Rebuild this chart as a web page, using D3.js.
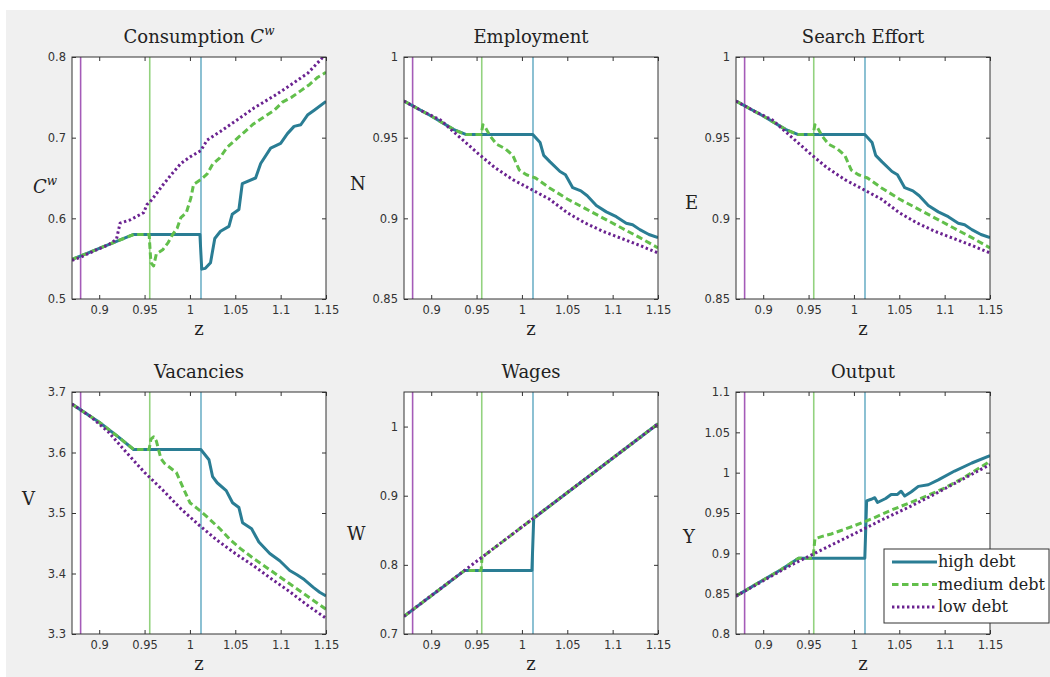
<!DOCTYPE html>
<html>
<head>
<meta charset="utf-8">
<script src="https://cdn.jsdelivr.net/npm/d3@7"></script>
<style>
  body { margin: 0; background: #fff; }
  svg { display: block; }
</style>
</head>
<body>
<svg id="chart" width="1050" height="677"></svg>
<script>
// z grid shown on every panel
var zDomain = [0.87, 1.15];
var zTicks = [0.9, 0.95, 1, 1.05, 1.1, 1.15];
// threshold z for low, medium, high debt (vertical lines)
var thresholds = [0.8795, 0.9557, 1.0122];
var seriesNames = ["high debt", "medium debt", "low debt"];

// Consumption C^w  [z, value]
var consHigh = [[0.87,0.549],[0.938,0.580],[1.011,0.580],[1.013,0.537],[1.017,0.538],[1.0227,0.545],
  [1.0274,0.575],[1.0337,0.584],[1.043,0.590],[1.0466,0.605],[1.054,0.611],[1.0577,0.643],[1.0724,0.650],
  [1.078,0.668],[1.089,0.687],[1.100,0.693],[1.1075,0.705],[1.1148,0.714],[1.1222,0.716],[1.1296,0.728],
  [1.137,0.734],[1.150,0.745]];
var consMed = [[0.87,0.549],[0.938,0.580],[0.955,0.580],[0.957,0.545],[0.960,0.541],[0.963,0.556],
  [0.970,0.561],[0.976,0.570],[0.981,0.580],[0.986,0.588],[0.990,0.601],[0.996,0.607],[1.001,0.625],
  [1.004,0.642],[1.012,0.648],[1.019,0.655],[1.025,0.667],[1.033,0.675],[1.041,0.688],[1.050,0.697],
  [1.060,0.707],[1.070,0.717],[1.082,0.726],[1.093,0.734],[1.102,0.744],[1.112,0.750],[1.122,0.758],
  [1.132,0.766],[1.141,0.775],[1.150,0.781]];
var consLow = [[0.87,0.548],[0.880,0.552],[0.895,0.560],[0.910,0.567],[0.919,0.574],[0.923,0.594],
  [0.934,0.598],[0.949,0.607],[0.9526,0.617],[0.958,0.623],[0.970,0.641],[0.980,0.655],[0.990,0.668],
  [1.000,0.676],[1.012,0.684],[1.019,0.697],[1.034,0.708],[1.052,0.722],[1.071,0.737],[1.093,0.752],
  [1.108,0.763],[1.130,0.780],[1.146,0.799],[1.150,0.802]];

// Employment N
var empHigh = [[0.87,0.9727],[0.90,0.9634],[0.925,0.955],[0.938,0.952],[1.012,0.952],[1.020,0.947],
  [1.024,0.939],[1.031,0.935],[1.042,0.929],[1.048,0.927],[1.056,0.919],[1.065,0.917],[1.072,0.914],
  [1.082,0.908],[1.093,0.904],[1.104,0.901],[1.115,0.897],[1.122,0.896],[1.130,0.893],[1.140,0.890],
  [1.150,0.888]];
var empMed = [[0.87,0.9727],[0.90,0.9634],[0.925,0.955],[0.938,0.952],[0.955,0.952],[0.957,0.958],
  [0.960,0.956],[0.965,0.951],[0.972,0.946],[0.982,0.943],[0.990,0.939],[0.997,0.930],[1.005,0.927],
  [1.015,0.925],[1.030,0.919],[1.050,0.912],[1.070,0.906],[1.090,0.900],[1.110,0.894],[1.130,0.888],
  [1.150,0.8817]];
var empLow = [[0.87,0.9727],[0.89,0.9665],[0.91,0.9610],[0.93,0.9510],[0.95,0.9410],[0.97,0.9315],
  [0.99,0.9240],[1.01,0.9180],[1.03,0.9120],[1.05,0.9035],[1.07,0.8970],[1.09,0.8918],[1.11,0.8875],
  [1.13,0.8832],[1.15,0.8785]];

// Search effort E
var effHigh = [[0.87,0.9727],[0.90,0.9634],[0.925,0.955],[0.938,0.952],[1.012,0.952],[1.020,0.947],
  [1.024,0.939],[1.031,0.935],[1.042,0.929],[1.048,0.927],[1.056,0.919],[1.065,0.917],[1.072,0.914],
  [1.082,0.908],[1.093,0.904],[1.104,0.901],[1.115,0.897],[1.122,0.896],[1.130,0.893],[1.140,0.890],
  [1.150,0.888]];
var effMed = [[0.87,0.9727],[0.90,0.9634],[0.925,0.955],[0.938,0.952],[0.955,0.952],[0.957,0.958],
  [0.960,0.956],[0.965,0.951],[0.972,0.946],[0.982,0.943],[0.990,0.939],[0.997,0.930],[1.005,0.927],
  [1.015,0.925],[1.030,0.919],[1.050,0.912],[1.070,0.906],[1.090,0.900],[1.110,0.894],[1.130,0.888],
  [1.150,0.8817]];
var effLow = [[0.87,0.9727],[0.89,0.9665],[0.91,0.9610],[0.93,0.9510],[0.95,0.9410],[0.97,0.9315],
  [0.99,0.9240],[1.01,0.9180],[1.03,0.9120],[1.05,0.9035],[1.07,0.8970],[1.09,0.8918],[1.11,0.8875],
  [1.13,0.8832],[1.15,0.8785]];

// Vacancies V
var vacHigh = [[0.87,3.680],[0.90,3.650],[0.92,3.627],[0.938,3.605],[1.012,3.605],[1.021,3.588],
  [1.025,3.560],[1.030,3.550],[1.040,3.537],[1.047,3.517],[1.054,3.509],[1.058,3.484],[1.068,3.474],
  [1.076,3.452],[1.088,3.433],[1.099,3.421],[1.110,3.405],[1.118,3.398],[1.126,3.390],[1.136,3.377],
  [1.143,3.369],[1.150,3.363]];
var vacMed = [[0.87,3.680],[0.90,3.650],[0.92,3.627],[0.938,3.605],[0.955,3.605],[0.957,3.622],
  [0.960,3.626],[0.963,3.619],[0.968,3.590],[0.972,3.582],[0.985,3.567],[0.993,3.540],[1.000,3.517],
  [1.011,3.504],[1.020,3.492],[1.033,3.474],[1.045,3.455],[1.055,3.442],[1.070,3.425],[1.090,3.404],
  [1.110,3.383],[1.130,3.362],[1.150,3.341]];
var vacLow = [[0.87,3.680],[0.89,3.660],[0.91,3.634],[0.93,3.600],[0.95,3.567],[0.97,3.538],
  [0.99,3.507],[1.01,3.480],[1.03,3.455],[1.05,3.433],[1.07,3.413],[1.09,3.391],[1.11,3.370],
  [1.13,3.347],[1.15,3.326]];

// Wages W
var wageHigh = [[0.87,0.7255],[0.937,0.792],[1.011,0.792],[1.013,0.8675],[1.15,1.004]];
var wageMed = [[0.87,0.7255],[0.937,0.792],[0.955,0.792],[0.956,0.811],[1.15,1.004]];
var wageLow = [[0.87,0.7255],[1.15,1.004]];

// Output Y
var outHigh = [[0.87,0.847],[0.90,0.867],[0.92,0.880],[0.939,0.894],[1.012,0.894],[1.014,0.965],
  [1.019,0.967],[1.023,0.969],[1.026,0.963],[1.035,0.968],[1.041,0.973],[1.048,0.973],[1.052,0.977],
  [1.056,0.971],[1.063,0.976],[1.071,0.983],[1.082,0.985],[1.093,0.991],[1.111,1.002],[1.130,1.012],
  [1.150,1.021]];
var outMed = [[0.87,0.847],[0.90,0.867],[0.92,0.880],[0.939,0.894],[0.955,0.894],[0.957,0.918],
  [0.965,0.921],[0.975,0.924],[0.985,0.928],[1.000,0.934],[1.020,0.943],[1.040,0.953],[1.060,0.962],
  [1.080,0.971],[1.100,0.981],[1.120,0.993],[1.150,1.014]];
var outLow = [[0.87,0.847],[0.90,0.866],[0.93,0.885],[0.955,0.899],[0.98,0.913],[1.00,0.924],
  [1.03,0.941],[1.06,0.957],[1.09,0.974],[1.12,0.992],[1.15,1.010]];

var panels = [
  {title: "Consumption", ylab: "C", sup: "w", yDomain: [0.5, 0.8], yTicks: [0.5, 0.6, 0.7, 0.8], series: [consHigh, consMed, consLow]},
  {title: "Employment", ylab: "N", yDomain: [0.85, 1], yTicks: [0.85, 0.9, 0.95, 1], series: [empHigh, empMed, empLow]},
  {title: "Search Effort", ylab: "E", yDomain: [0.85, 1], yTicks: [0.85, 0.9, 0.95, 1], series: [effHigh, effMed, effLow]},
  {title: "Vacancies", ylab: "V", yDomain: [3.3, 3.7], yTicks: [3.3, 3.4, 3.5, 3.6, 3.7], series: [vacHigh, vacMed, vacLow]},
  {title: "Wages", ylab: "W", yDomain: [0.7, 1.05], yTicks: [0.7, 0.8, 0.9, 1], series: [wageHigh, wageMed, wageLow]},
  {title: "Output", ylab: "Y", yDomain: [0.8, 1.1], yTicks: [0.8, 0.85, 0.9, 0.95, 1, 1.05, 1.1], series: [outHigh, outMed, outLow]}
];

// layout
var lefts = [72, 404, 736];
var tops = [57, 392];
var pw = 254, ph = 242;
// y-label anchor (start x relative to plot left, baseline relative to plot top)
var ylabPos = [[-39, 136], [-54, 133], [-51, 152], [-50, 113], [-57, 148], [-53, 151]];

var lineColors = ["#2a7d94", "#62bf4b", "#6a2290"];
var vlineColors = ["#a55bb8", "#93d27f", "#6fb1c8"]; // low, medium, high
var dashes = [null, "6.5,3.5", "2.4,2.6"];
var serif = "'DejaVu Serif', serif";
var sans = "'DejaVu Sans', sans-serif";
var fmt = function (d) { return String(+d.toFixed(2)); };

var svg = d3.select("#chart");
svg.append("rect").attr("x", 6).attr("y", 10).attr("width", 1044).attr("height", 667).attr("fill", "#f0f0f0");

panels.forEach(function (p, i) {
  var left = lefts[i % 3], top = tops[Math.floor(i / 3)];
  var x = d3.scaleLinear().domain(zDomain).range([0, pw]);
  var y = d3.scaleLinear().domain(p.yDomain).range([ph, 0]);

  var g = svg.append("g").attr("transform", "translate(" + left + "," + top + ")");
  g.append("rect").attr("width", pw).attr("height", ph).attr("fill", "#fff");

  var clipId = "clip" + i;
  g.append("clipPath").attr("id", clipId).append("rect").attr("width", pw).attr("height", ph);
  var plot = g.append("g").attr("clip-path", "url(#" + clipId + ")");

  plot.selectAll("line.thr")
    .data(thresholds)
    .enter()
    .append("line")
      .attr("class", "thr")
      .attr("x1", function (d) { return x(d); })
      .attr("x2", function (d) { return x(d); })
      .attr("y1", 0).attr("y2", ph)
      .attr("stroke", function (_, k) { return vlineColors[k]; })
      .attr("stroke-width", 1.6);

  var line = d3.line().x(function (d) { return x(d[0]); }).y(function (d) { return y(d[1]); });
  plot.selectAll("path.series")
    .data(p.series)
    .enter()
    .append("path")
      .attr("class", "series")
      .attr("d", line)
      .attr("fill", "none")
      .attr("stroke", function (_, k) { return lineColors[k]; })
      .attr("stroke-width", 3)
      .attr("stroke-dasharray", function (_, k) { return dashes[k]; })
      .attr("stroke-linejoin", "round");

  // axes with inward ticks on all four sides
  var styleAxis = function (a) {
    a.select(".domain").remove();
    a.selectAll(".tick line").attr("stroke", "#333");
    a.selectAll("text").attr("font-family", sans).attr("font-size", "11.5px").attr("fill", "#333");
  };
  g.append("g").attr("transform", "translate(0," + ph + ")")
    .call(d3.axisBottom(x).tickValues(zTicks).tickSize(-4).tickPadding(7).tickFormat(fmt)).call(styleAxis);
  g.append("g")
    .call(d3.axisTop(x).tickValues(zTicks).tickSize(-4).tickFormat("")).call(styleAxis);
  g.append("g")
    .call(d3.axisLeft(y).tickValues(p.yTicks).tickSize(-4).tickPadding(6).tickFormat(fmt)).call(styleAxis);
  g.append("g").attr("transform", "translate(" + pw + ",0)")
    .call(d3.axisRight(y).tickValues(p.yTicks).tickSize(-4).tickFormat("")).call(styleAxis);

  g.append("rect").attr("width", pw).attr("height", ph)
    .attr("fill", "none").attr("stroke", "#333").attr("stroke-width", 1);

  // title
  var t = g.append("text").attr("x", pw / 2).attr("y", -14).attr("text-anchor", "middle")
    .attr("font-family", serif).attr("font-size", "18px").attr("fill", "#222").text(p.title);
  if (p.sup) {
    t.append("tspan").text(" ");
    t.append("tspan").attr("font-style", "italic").text(p.ylab);
    t.append("tspan").attr("font-style", "italic").attr("font-size", "12px").attr("dy", -8).text(p.sup);
  }

  // y label
  var yl = g.append("text").attr("x", ylabPos[i][0]).attr("y", ylabPos[i][1])
    .attr("font-family", serif).attr("font-size", "18px").attr("fill", "#222");
  if (p.sup) {
    yl.append("tspan").attr("font-style", "italic").text(p.ylab);
    yl.append("tspan").attr("font-style", "italic").attr("font-size", "12px").attr("dy", -8).text(p.sup);
  } else {
    yl.text(p.ylab);
  }

  // x label
  g.append("text").attr("x", pw / 2).attr("y", ph + 36).attr("text-anchor", "middle")
    .attr("font-family", serif).attr("font-size", "18px").attr("fill", "#222").text("z");
});

// legend (over the Output panel)
var leg = svg.append("g").attr("transform", "translate(884,549)");
leg.append("rect").attr("width", 165).attr("height", 74)
  .attr("fill", "#fff").attr("stroke", "#333").attr("stroke-width", 1);
seriesNames.forEach(function (name, k) {
  var yy = 13 + k * 22.5;
  leg.append("line").attr("x1", 8).attr("x2", 53).attr("y1", yy).attr("y2", yy)
    .attr("stroke", lineColors[k]).attr("stroke-width", 3)
    .attr("stroke-dasharray", dashes[k]);
  leg.append("text").attr("x", 54).attr("y", yy + 5)
    .attr("font-family", serif).attr("font-size", "16px").attr("fill", "#222").text(name);
});
</script>
</body>
</html>
